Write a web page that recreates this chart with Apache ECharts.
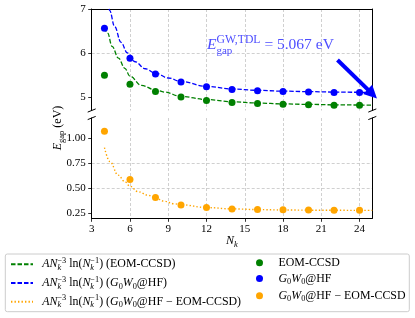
<!DOCTYPE html>
<html><head><meta charset="utf-8">
<script src="https://cdn.jsdelivr.net/npm/echarts@6/dist/echarts.min.js"></script>
<style>html,body{margin:0;padding:0;background:#fff}#c{width:415px;height:318px}</style>
</head><body><div id="c"></div><script>
// ---- data ----
const nk = [4, 6, 8, 10, 12, 14, 16, 18, 20, 22, 24];
const eomCCSD = [5.49, 5.29, 5.12, 5.00, 4.92, 4.87, 4.85, 4.83, 4.82, 4.81, 4.81];
const g0w0HF = [6.56, 5.88, 5.52, 5.34, 5.23, 5.17, 5.14, 5.12, 5.11, 5.10, 5.10];
const gwMinusEom = [1.067, 0.587, 0.407, 0.333, 0.307, 0.292, 0.288, 0.284, 0.282, 0.281, 0.281];

const fitEomN = [4, 4.25, 4.6, 5.1, 5.6, 6, 6.9, 8, 8.7, 10, 12, 14, 16, 18, 20, 22, 24, 25];
const fitEomE = [6.58, 6.45, 6.15, 5.88, 5.65, 5.47, 5.26, 5.16, 5.11, 5.01, 4.94, 4.89, 4.86, 4.84, 4.83, 4.82, 4.815, 4.81];
const fitGwN = [4.3, 4.4, 4.8, 5.3, 5.8, 6.4, 7.2, 8, 9, 10, 12, 14, 16, 18, 20, 22, 24, 25];
const fitGwE = [7.15, 6.97, 6.6, 6.24, 6.0, 5.8, 5.64, 5.54, 5.43, 5.35, 5.24, 5.18, 5.15, 5.13, 5.12, 5.11, 5.105, 5.10];
const fitDiffN = [4, 4.43, 5.08, 5.6, 6, 6.64, 7.42, 7.95, 8.7, 9.45, 10, 12, 14, 16, 18, 20, 22, 24, 25];
const fitDiffE = [0.905, 0.765, 0.63, 0.565, 0.52, 0.465, 0.43, 0.405, 0.37, 0.345, 0.335, 0.307, 0.294, 0.287, 0.283, 0.281, 0.28, 0.279, 0.279];

const xTicks = [3, 6, 9, 12, 15, 18, 21, 24];
const yTicksTop = [5, 6, 7];
const yTicksBottom = [0.25, 0.5, 0.75, 1.0];
const tdlValue = 5.067;

const zip = (a, b) => a.map((v, i) => [v, b[i]]);

const FONT = 'Liberation Serif';
const GREEN = '#008000', BLUE = '#0000ff', ORANGE = '#ffa500';
const GRIDC = '#c4c4c4';

const LF = 11.9, LS = 8.3;
const rich = {
  r: {fontFamily: FONT, fontSize: LF, lineHeight: 15, color: '#000'},
  i: {fontFamily: FONT, fontStyle: 'italic', fontSize: LF, lineHeight: 15, color: '#000'},
  sb: {fontFamily: FONT, fontStyle: 'italic', fontSize: LS, lineHeight: 7, verticalAlign: 'bottom', width: 0, color: '#000'},
  sp: {fontFamily: FONT, fontSize: LS, lineHeight: 8, verticalAlign: 'top', color: '#000'},
  s0: {fontFamily: FONT, fontSize: LS, lineHeight: 8, verticalAlign: 'bottom', color: '#000'},
  gap: {width: 4.2, fontSize: 8}
};
const fitPrefix = '{gap| }{i|AN}{sb|k}{sp|−3}{r| ln(}{i|N}{sb|k}{sp|−1}{r|)}';
const gw = '{i|G}{s0|0}{i|W}{s0|0}';
const names = {
  fitEom: 'fit EOM-CCSD', fitGw: 'fit G0W0@HF', fitDiff: 'fit G0W0@HF - EOM-CCSD',
  eom: 'EOM-CCSD', gw: 'G0W0@HF', diff: 'G0W0@HF - EOM-CCSD'
};
const labels = {};
labels[names.fitEom] = fitPrefix + '{r| (EOM-CCSD)}';
labels[names.fitGw] = fitPrefix + '{r| (}' + gw + '{r|@HF)}';
labels[names.fitDiff] = fitPrefix + '{r| (}' + gw + '{r|@HF − EOM-CCSD)}';
labels[names.eom] = '{r|EOM-CCSD}';
labels[names.gw] = gw + '{r|@HF}';
labels[names.diff] = gw + '{r|@HF − EOM-CCSD}';

const chart = echarts.init(document.getElementById('c'), null, {renderer: 'canvas'});

const GL = 91.7, GW = 280.6;
const axisLineStyle = {color: '#000', width: 1};
const splitLine = {show: true, lineStyle: {color: GRIDC, width: 0.8, type: [3, 2]}};
const tickLabel = {fontFamily: FONT, fontSize: 11, color: '#000'};

chart.setOption({
  animation: false,
  grid: [
    {left: GL, width: GW, top: 9, height: 101.5},
    {left: GL, width: GW, top: 118, height: 100.3}
  ],
  xAxis: [
    {type: 'value', gridIndex: 0, min: 3, max: 25, interval: 3, position: 'top',
     axisLine: {show: true, onZero: false, lineStyle: axisLineStyle},
     axisTick: {show: false}, axisLabel: {show: false}, splitLine: splitLine},
    {type: 'value', gridIndex: 1, min: 3, max: 25, interval: 3, position: 'bottom',
     axisLine: {show: true, onZero: false, lineStyle: axisLineStyle},
     axisTick: {show: true, length: 3.5, lineStyle: {color: '#000', width: 0.8}, customValues: xTicks},
     axisLabel: Object.assign({margin: 5, customValues: xTicks}, tickLabel),
     splitLine: splitLine}
  ],
  yAxis: [
    {type: 'value', gridIndex: 0, min: 4.69, max: 7, splitNumber: 2, position: 'left',
     axisLine: {show: true, onZero: false, lineStyle: axisLineStyle},
     axisTick: {show: true, length: 3.5, lineStyle: {color: '#000', width: 0.8}, customValues: yTicksTop},
     axisLabel: Object.assign({margin: 6, customValues: yTicksTop}, tickLabel),
     splitLine: Object.assign({showMinLine: false, showMaxLine: false}, splitLine)},
    {type: 'value', gridIndex: 0, min: 4.69, max: 7, position: 'right',
     axisLine: {show: true, onZero: false, lineStyle: axisLineStyle},
     axisTick: {show: false}, axisLabel: {show: false}, splitLine: {show: false}},
    {type: 'value', gridIndex: 1, min: 0.2, max: 1.2, splitNumber: 4, position: 'left',
     axisLine: {show: true, onZero: false, lineStyle: axisLineStyle},
     axisTick: {show: true, length: 3.5, lineStyle: {color: '#000', width: 0.8}, customValues: yTicksBottom},
     axisLabel: Object.assign({margin: 6, customValues: yTicksBottom, formatter: v => v.toFixed(2)}, tickLabel),
     splitLine: Object.assign({showMinLine: false, showMaxLine: false}, splitLine)},
    {type: 'value', gridIndex: 1, min: 0.2, max: 1.2, position: 'right',
     axisLine: {show: true, onZero: false, lineStyle: axisLineStyle},
     axisTick: {show: false}, axisLabel: {show: false}, splitLine: {show: false}}
  ],
  legend: [
    {data: [names.fitEom, names.fitGw, names.fitDiff], orient: 'vertical', left: 10, top: 256.8,
     padding: 0, itemWidth: 22, itemHeight: 10, itemGap: 3.7, selectedMode: false,
     itemStyle: {opacity: 0, borderWidth: 0},
     formatter: n => labels[n], textStyle: {rich: rich, color: '#000'}},
    {data: [names.eom, names.gw, names.diff], orient: 'vertical', left: 256, top: 256.8,
     padding: 0, itemWidth: 28, itemHeight: 7, itemGap: 3.7, selectedMode: false, icon: 'circle',
     formatter: n => labels[n], textStyle: {rich: rich, color: '#000'}}
  ],
  series: [
    {name: names.fitEom, type: 'line', xAxisIndex: 0, yAxisIndex: 0, data: zip(fitEomN, fitEomE),
     symbol: 'none', showSymbol: false, smooth: 0.4, smoothMonotone: 'x', clip: true,
     lineStyle: {color: GREEN, width: 1.3, type: [4.5, 2]}, itemStyle: {color: GREEN}, z: 2},
    {name: names.fitGw, type: 'line', xAxisIndex: 0, yAxisIndex: 0, data: zip(fitGwN, fitGwE),
     symbol: 'none', showSymbol: false, smooth: 0.4, smoothMonotone: 'x', clip: true,
     lineStyle: {color: BLUE, width: 1.3, type: [4.5, 2]}, itemStyle: {color: BLUE}, z: 2,
     markLine: {silent: true, symbol: ['none', 'triangle'], symbolSize: 13, label: {show: false},
       lineStyle: {color: BLUE, width: 4, type: 'solid'}, emphasis: {disabled: true},
       data: [[{coord: [22.27, 5.84]}, {coord: [25, tdlValue]}]]}},
    {name: names.fitDiff, type: 'line', xAxisIndex: 1, yAxisIndex: 2, data: zip(fitDiffN, fitDiffE),
     symbol: 'none', showSymbol: false, smooth: 0.4, smoothMonotone: 'x', clip: true,
     lineStyle: {color: ORANGE, width: 1.4, type: [1.4, 2.1]}, itemStyle: {color: ORANGE}, z: 2},
    {name: names.eom, type: 'scatter', xAxisIndex: 0, yAxisIndex: 0, data: zip(nk, eomCCSD),
     symbol: 'circle', symbolSize: 7, itemStyle: {color: GREEN, opacity: 1}, z: 3},
    {name: names.gw, type: 'scatter', xAxisIndex: 0, yAxisIndex: 0, data: zip(nk, g0w0HF),
     symbol: 'circle', symbolSize: 7, itemStyle: {color: BLUE, opacity: 1}, z: 3},
    {name: names.diff, type: 'scatter', xAxisIndex: 1, yAxisIndex: 2, data: zip(nk, gwMinusEom),
     symbol: 'circle', symbolSize: 7, itemStyle: {color: ORANGE, opacity: 1}, z: 3}
  ]
});

// ---- decorations placed via the axes' own scales ----
const p0 = v => chart.convertToPixel({xAxisIndex: 0, yAxisIndex: 0}, v);
const p1 = v => chart.convertToPixel({xAxisIndex: 1, yAxisIndex: 2}, v);
const tl = p0([3, 4.69]), tr = p0([25, 4.69]);
const bl = p1([3, 1.2]), br = p1([25, 1.2]);
const brk = (c) => ({type: 'line', silent: true, z: 10,
  shape: {x1: c[0] - 4, y1: c[1] + 1.6, x2: c[0] + 4, y2: c[1] - 1.6},
  style: {stroke: '#000', lineWidth: 1}});
const ann = p0([12.04, 6.05]);
const AC = '#4d4dff';
const annRich = {
  e: {fontFamily: FONT, fontStyle: 'italic', fontSize: 15.5, lineHeight: 22, fill: AC},
  up: {fontFamily: FONT, fontSize: 11.7, lineHeight: 10, verticalAlign: 'top', fill: AC},
  dn: {fontFamily: FONT, fontSize: 11, lineHeight: 9, verticalAlign: 'bottom', width: 0, fill: AC},
  t: {fontFamily: FONT, fontSize: 15.5, lineHeight: 22, fill: AC}
};
const labRich = {
  e: {fontFamily: FONT, fontStyle: 'italic', fontSize: 12, lineHeight: 16, fill: '#000'},
  s: {fontFamily: FONT, fontSize: 8.5, lineHeight: 8, verticalAlign: 'bottom', fill: '#000'},
  si: {fontFamily: FONT, fontStyle: 'italic', fontSize: 8.5, lineHeight: 8, verticalAlign: 'bottom', fill: '#000'},
  t: {fontFamily: FONT, fontSize: 12, lineHeight: 16, fill: '#000'}
};
chart.setOption({
  graphic: [
    {type: 'rect', silent: true, z: -5, shape: {x: 5.3, y: 254, width: 404, height: 57.7, r: 2},
     style: {fill: '#fff', stroke: '#cccccc', lineWidth: 1}},
    brk(tl), brk(tr), brk(bl), brk(br),
    {type: 'text', silent: true, z: 10, x: ann[0], y: ann[1] - 16.5,
     style: {text: '{e|E}{dn|gap}{up|GW,TDL}{t| = 5.067 eV}', rich: annRich, align: 'left', verticalAlign: 'top'}},
    {type: 'text', silent: true, x: 58, y: 128, rotation: Math.PI / 2,
     style: {text: '{e|E}{s|gap}{t| (eV)}', rich: labRich, align: 'center', verticalAlign: 'middle'}},
    {type: 'text', silent: true, x: 232, y: 241,
     style: {text: '{e|N}{si|k}', rich: labRich, align: 'center', verticalAlign: 'middle'}}
  ]
});
</script></body></html>
